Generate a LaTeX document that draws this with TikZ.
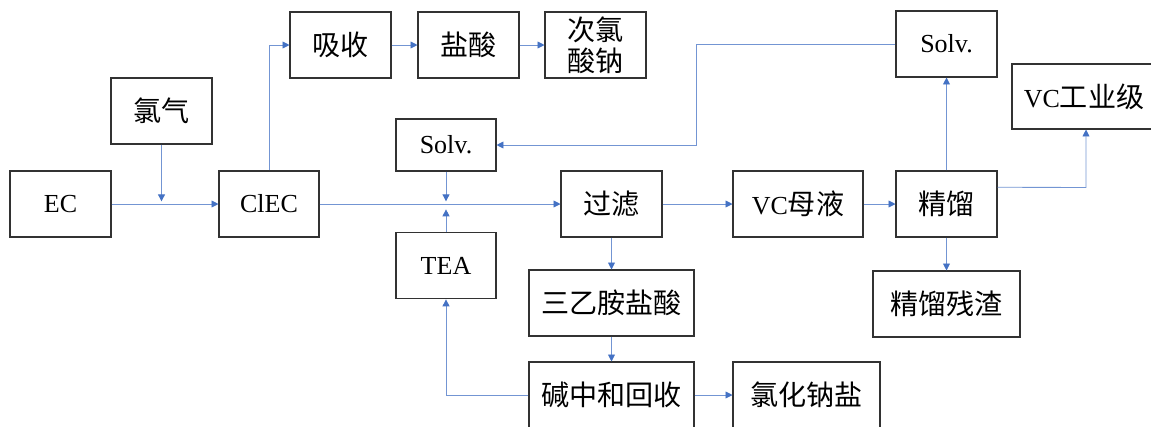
\documentclass[tikz,border=0pt]{standalone}
\usepackage{fontspec}
\setmainfont{Liberation Serif}
\newfontfamily\cjk[Scale=1.08]{Noto Sans CJK SC}
\usetikzlibrary{arrows.meta,calc}
\definecolor{lnblue}{RGB}{68,114,196}
\definecolor{bxline}{RGB}{50,50,50}
\begin{document}
\begin{tikzpicture}[x=0.75pt,y=-0.75pt,
  box/.style={draw=bxline,line width=0.8pt,fill=white,inner sep=0pt,align=center,
    font=\fontsize{19.5pt}{24pt}\selectfont},
  flow/.style={draw=lnblue!75,line width=0.65pt,-{Triangle[length=5.2pt,width=5.2pt,color=lnblue]}}]
\useasboundingbox (0,0) rectangle (1151,426);
% nodes
\node[box,minimum width=75.75pt,minimum height=49.5pt] (ec) at (60.5,204) {EC};
\node[box,minimum width=75.75pt,minimum height=49.5pt] (cl) at (161.5,111) {\cjk 氯气};
\node[box,minimum width=75pt,minimum height=49.5pt] (clec) at (269,204) {ClEC};
\node[box,minimum width=75.75pt,minimum height=49.5pt] (xs) at (340.5,45) {\cjk 吸收};
\node[box,minimum width=75.75pt,minimum height=49.5pt] (ys) at (468.5,45) {\cjk 盐酸};
\node[box,minimum width=75.75pt,minimum height=49.5pt,font=\fontsize{19.5pt}{23pt}\selectfont] (cln) at (595.5,45) {\cjk 次氯\\\cjk 酸钠};
\node[box,minimum width=75pt,minimum height=39pt] (solva) at (446,145) {Solv.};
\node[box,minimum width=75pt,minimum height=50pt] (tea) at (446,265.5) {TEA};
\node[box,minimum width=75.75pt,minimum height=49.5pt] (gl) at (611.5,204) {\cjk 过滤};
\node[box,minimum width=123.75pt,minimum height=49.5pt] (sya) at (611.5,303) {\cjk 三乙胺盐酸};
\node[box,minimum width=123.75pt,minimum height=49.5pt] (jzh) at (611.5,395) {\cjk 碱中和回收};
\node[box,minimum width=110.25pt,minimum height=49.5pt] (nacl) at (806.5,395) {\cjk 氯化钠盐};
\node[box,minimum width=97.5pt,minimum height=49.5pt] (vcm) at (798,204) {VC{\cjk 母液}};
\node[box,minimum width=75.75pt,minimum height=49.5pt] (jl) at (946.5,204) {\cjk 精馏};
\node[box,minimum width=110.25pt,minimum height=49.5pt] (jlz) at (946.5,304) {\cjk 精馏残渣};
\node[box,minimum width=75.75pt,minimum height=49.5pt] (solvb) at (946.5,44) {Solv.};
\node[box,minimum width=108pt,minimum height=48.75pt] (vcg) at (1084,96.5) {VC{\cjk 工业级}};
% junction coordinates
\coordinate (j1) at (161.5,204);
\coordinate (j2) at (446,204);
\coordinate (c1) at (696,145);
\coordinate (c2) at (1086,187.5);
% connectors
\draw[flow] (ec) -- (clec);
\draw[flow,shorten >=2pt] (cl) -- (j1);
\draw[flow] (clec.north) |- (xs.west);
\draw[flow] (xs) -- (ys);
\draw[flow] (ys) -- (cln);
\draw[flow] (clec) -- (gl);
\draw[flow,shorten >=2pt] (solva) -- (j2);
\draw[flow,shorten >=4pt] (tea) -- (j2);
\draw[flow] (gl) -- (vcm);
\draw[flow] (vcm) -- (jl);
\draw[flow] (gl) -- (sya);
\draw[flow] (sya) -- (jzh);
\draw[flow] (jzh) -- (nacl);
\draw[flow] (jzh.west) -| (tea.south);
\draw[flow] (jl) -- (solvb);
\draw[flow] (jl) -- (jlz);
\draw[flow] ($(jl.north east)!0.25!(jl.south east)$) -- (c2) -- (c2 |- vcg.south);
\draw[flow] (solvb.west) -| (c1) -- (solva.east);
\end{tikzpicture}
\end{document}
